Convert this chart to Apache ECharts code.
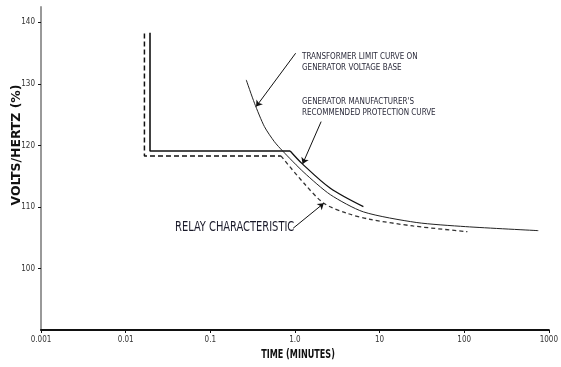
<!DOCTYPE html>
<html>
<head>
<meta charset="utf-8">
<script src="https://cdn.jsdelivr.net/npm/echarts@6/dist/echarts.min.js"></script>
<style>
body{margin:0;background:#fff;}
#main{width:561px;height:367px;}
</style>
</head>
<body>
<div id="main"></div>
<script>
//x轴刻度
var xTickLabels = ['0.001', '0.01', '0.1', '1.0', '10', '100', '1000'];
var yTickValues = [100, 110, 120, 130, 140];

//发电机厂家推荐曲线 (实线, 阶梯部分)
var genStepTime = [0.0194, 0.0194, 0.879];
var genStepVolts = [138.3, 119.1, 119.1];
//发电机厂家推荐曲线 (实线, 曲线部分)
var genCurveTime = [0.879, 1.224, 2.62, 6.44];
var genCurveVolts = [119.1, 117.0, 113.04, 110.05];

//变压器限制曲线
var xfmrTime = [0.266, 0.333, 0.436, 0.571, 0.714, 1.28, 2.62, 6.44, 27.1, 104, 750];
var xfmrVolts = [130.65, 126.86, 123.06, 120.62, 119.11, 115.6, 112.0, 109.2, 107.48, 106.8, 106.15];

//继电器特性 (虚线)
var relayStepTime = [0.01667, 0.01667, 0.683];
var relayStepVolts = [138.2, 118.3, 118.3];
var relayCurveTime = [0.683, 1.28, 2.195, 4.11, 7.69, 24.8, 109];
var relayCurveVolts = [118.3, 113.85, 110.6, 108.98, 108.0, 106.91, 105.98];

//箭头 [起点时间, 起点电压, 终点时间, 终点电压]
var arrowXfmr = [1.02, 134.99, 0.348, 126.31];
var arrowGen = [2.04, 123.87, 1.233, 116.99];
var arrowRelay = [0.953, 106.54, 2.195, 110.6];

var narrow = "'Liberation Sans Narrow', 'DejaVu Sans Condensed', sans-serif";

function pairs(xs, ys) {
	var out = [];
	for (var i = 0; i < xs.length; i++) {
		out.push([xs[i], ys[i]]);
	}
	return out;
}

function arrowLine(a) {
	return [{coord: [a[0], a[1]]}, {coord: [a[2], a[3]]}];
}

var myChart = echarts.init(document.getElementById('main'));

var option = {
	animation: false,
	backgroundColor: '#fff',
	grid: {left: 41, right: 4, top: 7, bottom: 37},
	xAxis: {
		type: 'log',
		logBase: 10,
		min: 0.001,
		max: 1000,
		axisLine: {lineStyle: {color: '#111', width: 2}},
		axisTick: {show: true, length: 3, lineStyle: {color: '#111'}},
		minorTick: {show: false},
		splitLine: {show: false},
		axisLabel: {
			fontFamily: narrow, fontSize: 8, color: '#333', margin: 6,
			formatter: function(v) {
				var k = Math.round(Math.log(v) / Math.LN10) + 3;
				return xTickLabels[k] || '';
			}
		}
	},
	yAxis: {
		type: 'value',
		min: 90,
		max: 142.5,
		interval: 10,
		axisLine: {show: true, lineStyle: {color: '#999', width: 2}},
		axisTick: {show: true, length: 3, customValues: yTickValues, lineStyle: {color: '#111'}},
		splitLine: {show: false},
		axisLabel: {
			fontFamily: narrow, fontSize: 8, color: '#333', margin: 6,
			customValues: yTickValues
		}
	},
	graphic: [
		//坐标轴名称
		{
			type: 'text', x: 17, y: 145, rotation: Math.PI / 2, scaleX: 1.15,
			style: {text: 'VOLTS/HERTZ (%)', font: 'bold 12px ' + narrow, fill: '#111', align: 'center', verticalAlign: 'middle'}
		},
		{
			type: 'text', x: 298, y: 355, scaleY: 1.35,
			style: {text: 'TIME (MINUTES)', font: 'bold 9px ' + narrow, fill: '#111', align: 'center', verticalAlign: 'middle'}
		},
		//注释
		{
			type: 'text', x: 302, y: 51,
			style: {text: 'TRANSFORMER LIMIT CURVE ON\nGENERATOR VOLTAGE BASE', font: '8px ' + narrow, fill: '#2b2b3b', lineHeight: 11}
		},
		{
			type: 'text', x: 302, y: 96,
			style: {text: "GENERATOR MANUFACTURER'S\nRECOMMENDED PROTECTION CURVE", font: '8px ' + narrow, fill: '#2b2b3b', lineHeight: 11}
		},
		{
			type: 'text', x: 175, y: 228, scaleY: 1.2,
			style: {text: 'RELAY CHARACTERISTIC', font: '11px ' + narrow, fill: '#1a1a2a', verticalAlign: 'middle'}
		}
	],
	series: [
		{
			name: 'gen step', type: 'line', symbol: 'none',
			data: pairs(genStepTime, genStepVolts),
			lineStyle: {color: '#111', width: 1.6}
		},
		{
			name: 'gen curve', type: 'line', symbol: 'none', smooth: 0.3,
			data: pairs(genCurveTime, genCurveVolts),
			lineStyle: {color: '#111', width: 1.3}
		},
		{
			name: 'transformer', type: 'line', symbol: 'none', smooth: 0.25,
			data: pairs(xfmrTime, xfmrVolts),
			lineStyle: {color: '#222', width: 1},
			markLine: {
				silent: true,
				symbol: ['none', 'arrow'],
				symbolSize: 6,
				label: {show: false},
				lineStyle: {color: '#111', width: 1, type: 'solid'},
				data: [arrowLine(arrowXfmr), arrowLine(arrowGen), arrowLine(arrowRelay)]
			}
		},
		{
			name: 'relay step', type: 'line', symbol: 'none',
			data: pairs(relayStepTime, relayStepVolts),
			lineStyle: {color: '#111', width: 1.5, type: [5, 3]}
		},
		{
			name: 'relay curve', type: 'line', symbol: 'none', smooth: 0.3,
			data: pairs(relayCurveTime, relayCurveVolts),
			lineStyle: {color: '#333', width: 1.3, type: [4, 3]}
		}
	]
};

myChart.setOption(option);
</script>
</body>
</html>
